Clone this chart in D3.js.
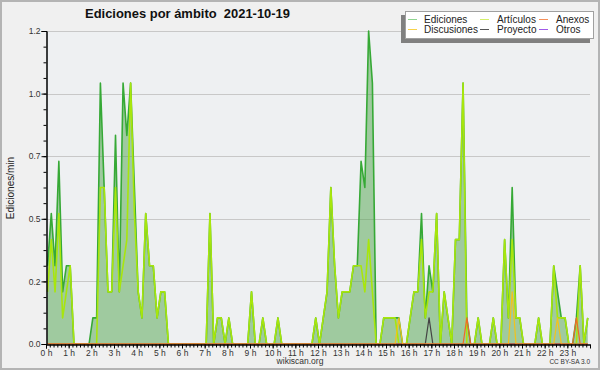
<!DOCTYPE html>
<html>
<head>
<meta charset="utf-8">
<script src="https://cdn.jsdelivr.net/npm/d3@7"></script>
<style>
  body { margin: 0; background: #ffffff; }
  svg text { font-family: "Liberation Sans", Arial, sans-serif; }
</style>
</head>
<body>
<script>
// Edits per minute, one value per 10 minutes (6 per hour)
var ediciones = [
  0.3, 0.5, 0.3, 0.7, 0.2, 0.3,   // 0 h
  0.3, 0, 0, 0, 0, 0,             // 1 h
  0.1, 0.1, 1.0, 0.6, 0.2, 0.2,   // 2 h
  0.8, 0.2, 1.0, 0.8, 1.0, 0.6,   // 3 h
  0.2, 0.1, 0.5, 0.3, 0.3, 0.1,   // 4 h
  0.2, 0.2, 0, 0, 0, 0,           // 5 h
  0, 0, 0, 0, 0, 0,               // 6 h
  0, 0.5, 0, 0.1, 0.1, 0,         // 7 h
  0.1, 0, 0, 0, 0, 0,             // 8 h
  0.2, 0, 0, 0.1, 0, 0,           // 9 h
  0, 0.1, 0, 0, 0, 0,             // 10 h
  0, 0, 0, 0, 0, 0.1,             // 11 h
  0, 0.1, 0.2, 0.6, 0.3, 0.1,     // 12 h
  0.2, 0.2, 0.2, 0.3, 0.3, 0.7,   // 13 h
  0.6, 1.2, 1.0, 0, 0, 0.1,       // 14 h
  0.1, 0.1, 0.1, 0.1, 0, 0,       // 15 h
  0.1, 0.2, 0.2, 0.5, 0.1, 0.3,   // 16 h
  0.2, 0.5, 0, 0.2, 0.1, 0,       // 17 h
  0.4, 0.4, 1.0, 0.1, 0, 0,       // 18 h
  0.1, 0, 0, 0, 0.1, 0,           // 19 h
  0, 0.4, 0.1, 0.6, 0.1, 0.1,     // 20 h
  0, 0, 0, 0, 0.1, 0,             // 21 h
  0, 0, 0.3, 0.2, 0.1, 0.1,       // 22 h
  0, 0, 0.1, 0.3, 0, 0.1          // 23 h
];

var articulos = [
  0.2, 0.4, 0.2, 0.5, 0.1, 0.2,
  0.3, 0, 0, 0, 0, 0,
  0, 0, 0.6, 0.6, 0.2, 0.2,
  0.6, 0.2, 0.3, 0.4, 1.0, 0.5,
  0.2, 0.1, 0.5, 0.3, 0.3, 0.1,
  0.2, 0.2, 0, 0, 0, 0,
  0, 0, 0, 0, 0, 0,
  0, 0.5, 0, 0.1, 0.1, 0,
  0.1, 0, 0, 0, 0, 0,
  0.2, 0, 0, 0.1, 0, 0,
  0, 0.1, 0, 0, 0, 0,
  0, 0, 0, 0, 0, 0.1,
  0, 0.1, 0.2, 0.6, 0.3, 0.1,
  0.2, 0.2, 0.2, 0.3, 0.3, 0.3,
  0.2, 0.4, 0.2, 0, 0, 0.1,
  0.1, 0.1, 0.1, 0, 0, 0,
  0.1, 0.2, 0.2, 0.4, 0.1, 0.2,
  0.2, 0.5, 0, 0.2, 0.1, 0,
  0.4, 0.4, 1.0, 0, 0, 0,
  0.1, 0, 0, 0, 0.1, 0,
  0, 0.4, 0.1, 0.4, 0.1, 0.1,
  0, 0, 0, 0, 0.1, 0,
  0, 0, 0.3, 0.1, 0.1, 0.1,
  0, 0, 0, 0.3, 0, 0.1
];

var anexos = [
  0, 0, 0, 0, 0, 0,  0, 0, 0, 0, 0, 0,  0, 0, 0, 0, 0, 0,  0, 0, 0, 0, 0, 0,
  0, 0, 0, 0, 0, 0,  0, 0, 0, 0, 0, 0,  0, 0, 0, 0, 0, 0,  0, 0, 0, 0, 0, 0,
  0, 0, 0, 0, 0, 0,  0, 0, 0, 0, 0, 0,  0, 0, 0, 0, 0, 0,  0, 0, 0, 0, 0, 0,
  0, 0, 0, 0, 0, 0,  0, 0, 0, 0, 0, 0,  0, 0, 0, 0, 0, 0,  0, 0, 0, 0, 0, 0,
  0, 0, 0, 0, 0, 0,  0, 0, 0, 0, 0, 0,  0, 0, 0, 0.1, 0, 0,  0, 0, 0, 0, 0, 0,
  0, 0, 0, 0, 0, 0,  0, 0, 0, 0, 0, 0,  0, 0, 0, 0, 0, 0,  0, 0, 0.1, 0, 0, 0
];

var discusiones = [
  0, 0, 0, 0, 0, 0,  0, 0, 0, 0, 0, 0,  0, 0, 0, 0, 0, 0,  0, 0, 0, 0, 0, 0,
  0, 0, 0, 0, 0, 0,  0, 0, 0, 0, 0, 0,  0, 0, 0, 0, 0, 0,  0, 0, 0, 0, 0, 0,
  0, 0, 0, 0, 0, 0,  0, 0, 0, 0, 0, 0,  0, 0, 0, 0, 0, 0,  0, 0, 0, 0, 0, 0,
  0, 0, 0, 0, 0, 0,  0, 0, 0, 0, 0, 0,  0, 0, 0, 0, 0, 0,  0, 0, 0, 0.1, 0, 0,
  0, 0, 0, 0, 0, 0,  0, 0, 0, 0, 0, 0,  0, 0, 0, 0, 0, 0,  0, 0, 0, 0, 0, 0,
  0, 0, 0, 0.2, 0, 0,  0, 0, 0, 0, 0, 0,  0, 0, 0, 0.1, 0, 0,  0, 0, 0, 0, 0, 0
];

var proyecto = [
  0, 0, 0, 0, 0, 0,  0, 0, 0, 0, 0, 0,  0, 0, 0, 0, 0, 0,  0, 0, 0, 0, 0, 0,
  0, 0, 0, 0, 0, 0,  0, 0, 0, 0, 0, 0,  0, 0, 0, 0, 0, 0,  0, 0, 0, 0, 0, 0,
  0, 0, 0, 0, 0, 0,  0, 0, 0, 0, 0, 0,  0, 0, 0, 0, 0, 0,  0, 0, 0, 0, 0, 0,
  0, 0, 0, 0, 0, 0,  0, 0, 0, 0, 0, 0,  0, 0, 0, 0, 0, 0,  0, 0, 0, 0, 0, 0,
  0, 0, 0, 0, 0, 0.1,  0, 0, 0, 0, 0, 0,  0, 0, 0, 0, 0, 0,  0, 0, 0, 0, 0, 0,
  0, 0, 0, 0, 0, 0,  0, 0, 0, 0, 0, 0,  0, 0, 0, 0, 0, 0,  0, 0, 0, 0, 0, 0
];

var otros = [
  0, 0, 0, 0, 0, 0,  0, 0, 0, 0, 0, 0,  0, 0, 0, 0, 0, 0,  0, 0, 0, 0, 0, 0,
  0, 0, 0, 0, 0, 0,  0, 0, 0, 0, 0, 0,  0, 0, 0, 0, 0, 0,  0, 0, 0, 0, 0, 0,
  0, 0, 0, 0, 0, 0,  0, 0, 0, 0, 0, 0,  0, 0, 0, 0, 0, 0,  0, 0, 0, 0, 0, 0,
  0, 0, 0, 0, 0, 0,  0, 0, 0, 0, 0, 0,  0, 0, 0, 0, 0, 0,  0, 0, 0, 0, 0, 0,
  0, 0, 0, 0, 0, 0,  0, 0, 0, 0, 0, 0,  0, 0, 0, 0, 0, 0,  0, 0, 0, 0, 0, 0,
  0, 0, 0, 0, 0, 0,  0, 0, 0, 0, 0, 0,  0, 0, 0, 0, 0, 0,  0, 0, 0, 0, 0, 0
];

// Axis ticks and labels
var yTicks = [0, 0.24, 0.48, 0.72, 0.96, 1.2];
var yTickLabels = ["0.0", "0.2", "0.5", "0.7", "1.0", "1.2"];
var hourLabels = ["0 h", "1 h", "2 h", "3 h", "4 h", "5 h", "6 h", "7 h", "8 h", "9 h",
                  "10 h", "11 h", "12 h", "13 h", "14 h", "15 h", "16 h", "17 h",
                  "18 h", "19 h", "20 h", "21 h", "22 h", "23 h"];

var legendNames = ["Ediciones", "Artículos", "Anexos", "Discusiones", "Proyecto", "Otros"];
var legendColors = ["#8fd48f", "#d4ef6a", "#f5905a", "#f7d24a", "#555555", "#a05ae8"];

var title = "Ediciones por ámbito\u00a0\u00a02021-10-19";

window.onload = function() {
  drawChart();
};

function drawChart() {
  var width = 600;
  var height = 370;
  var left = 46;
  var right = 590;
  var top = 31;
  var bottom = 344;

  var svg = d3.select("body")
              .append("svg")
              .attr("width", width)
              .attr("height", height);

  // Background and frame
  svg.append("rect")
     .attr("x", 1).attr("y", 1)
     .attr("width", width - 2).attr("height", height - 2)
     .attr("fill", "#f0f0f0")
     .attr("stroke", "#b4b4b4")
     .attr("stroke-width", 2);

  svg.append("rect")
     .attr("x", left).attr("y", top)
     .attr("width", right - left).attr("height", bottom - top)
     .attr("fill", "#eef0f2");

  // Scales: minutes of the day, edits per minute
  var x = d3.scaleLinear().domain([0, 1440]).range([left, right]);
  var y = d3.scaleLinear().domain([0, 1.2]).range([bottom, top]);

  function px(d, i) { return x(i * 10 + 4); }

  // Grid lines
  svg.selectAll(".grid")
     .data(yTicks.slice(1))
     .enter()
     .append("line")
     .attr("x1", left).attr("x2", right)
     .attr("y1", function(d) { return Math.round(y(d)) + 0.5; })
     .attr("y2", function(d) { return Math.round(y(d)) + 0.5; })
     .attr("stroke", "#c8c8c8");

  // Filled area for the total
  var area = d3.area()
               .x(px)
               .y0(y(0))
               .y1(function(d) { return y(d); });
  svg.append("path")
     .datum(ediciones)
     .attr("d", area)
     .attr("fill", "rgba(80,164,76,0.5)");

  // Lines
  var line = d3.line()
               .x(px)
               .y(function(d) { return y(d); });
  var series = [
    {values: ediciones, color: "#36a936", w: 1.6},
    {values: articulos, color: "#a8e60c", w: 1.6},
    {values: otros, color: "#9a4ae8", w: 1.2},
    {values: proyecto, color: "#444444", w: 1.2},
    {values: discusiones, color: "#f3c21c", w: 1.2},
    {values: anexos, color: "#f06a28", w: 1.2}
  ];
  svg.selectAll(".serie")
     .data(series)
     .enter()
     .append("path")
     .attr("d", function(d) { return line(d.values); })
     .attr("fill", "none")
     .attr("stroke", function(d) { return d.color; })
     .attr("stroke-width", function(d) { return d.w; })
     .attr("stroke-linejoin", "round");

  // Y axis
  svg.append("g")
     .attr("transform", "translate(" + (left + 0.5) + ",0)")
     .call(d3.axisLeft(y).tickValues(d3.range(0, 1.2001, 0.06)).tickSize(3).tickFormat(""));
  var yAxis = svg.append("g")
     .attr("transform", "translate(" + (left + 0.5) + ",0)")
     .call(d3.axisLeft(y)
             .tickValues(yTicks)
             .tickSize(5)
             .tickPadding(1)
             .tickFormat(function(d, i) { return yTickLabels[i]; }));
  yAxis.selectAll("text").attr("font-size", "8.5px").attr("fill", "#333")
       .attr("font-family", "Liberation Sans, sans-serif");

  // X axis
  svg.append("g")
     .attr("transform", "translate(0," + (bottom + 0.5) + ")")
     .call(d3.axisBottom(x).tickValues(d3.range(0, 1441, 10)).tickSize(3).tickFormat(""));
  var xAxis = svg.append("g")
     .attr("transform", "translate(0," + (bottom + 0.5) + ")")
     .call(d3.axisBottom(x)
             .tickValues(d3.range(0, 1440, 60))
             .tickSize(4)
             .tickPadding(1)
             .tickFormat(function(d, i) { return hourLabels[i]; }));
  xAxis.selectAll("text").attr("font-size", "8.5px").attr("fill", "#333")
       .attr("font-family", "Liberation Sans, sans-serif");

  svg.selectAll(".domain").attr("stroke", "#000");
  svg.selectAll(".tick line").attr("stroke", "#000");

  // Axis label
  svg.append("text")
     .text("Ediciones/min")
     .attr("transform", "translate(14,188) rotate(-90)")
     .attr("text-anchor", "middle")
     .attr("font-family", "DejaVu Sans Mono, monospace")
     .attr("font-size", "10px")
     .attr("fill", "#222");

  // Title
  svg.append("text")
     .text(title)
     .attr("x", 85)
     .attr("y", 18)
     .attr("font-size", "13.5px")
     .attr("font-weight", "bold")
     .attr("textLength", 205)
     .attr("lengthAdjust", "spacingAndGlyphs")
     .attr("fill", "#111");

  // Footer
  svg.append("text")
     .text("wikiscan.org")
     .attr("x", 300).attr("y", 364)
     .attr("text-anchor", "middle")
     .attr("font-size", "8.5px")
     .attr("fill", "#333");
  svg.append("text")
     .text("CC BY-SA 3.0")
     .attr("x", 590).attr("y", 364)
     .attr("text-anchor", "end")
     .attr("font-size", "6.5px")
     .attr("fill", "#333");

  // Legend box with shadow
  svg.append("rect")
     .attr("x", 401).attr("y", 15)
     .attr("width", 189).attr("height", 28)
     .attr("fill", "#808080");
  svg.append("rect")
     .attr("x", 405.5).attr("y", 11.5)
     .attr("width", 188).attr("height", 27)
     .attr("fill", "#ffffff")
     .attr("stroke", "#a0a0a0");

  var colX = [408, 480, 539];
  var textX = [424, 497, 556];
  var rowY = [19, 29];
  var legend = svg.selectAll(".legend")
                  .data(legendNames)
                  .enter()
                  .append("g");
  legend.append("line")
        .attr("x1", function(d, i) { return colX[i % 3]; })
        .attr("x2", function(d, i) { return colX[i % 3] + 9; })
        .attr("y1", function(d, i) { return rowY[Math.floor(i / 3)] + 0.5; })
        .attr("y2", function(d, i) { return rowY[Math.floor(i / 3)] + 0.5; })
        .attr("stroke", function(d, i) { return legendColors[i]; });
  legend.append("text")
        .text(function(d) { return d; })
        .attr("x", function(d, i) { return textX[i % 3]; })
        .attr("y", function(d, i) { return rowY[Math.floor(i / 3)] + 3.5; })
        .attr("font-size", "10px")
        .attr("fill", "#222");
}
</script>
</body>
</html>
